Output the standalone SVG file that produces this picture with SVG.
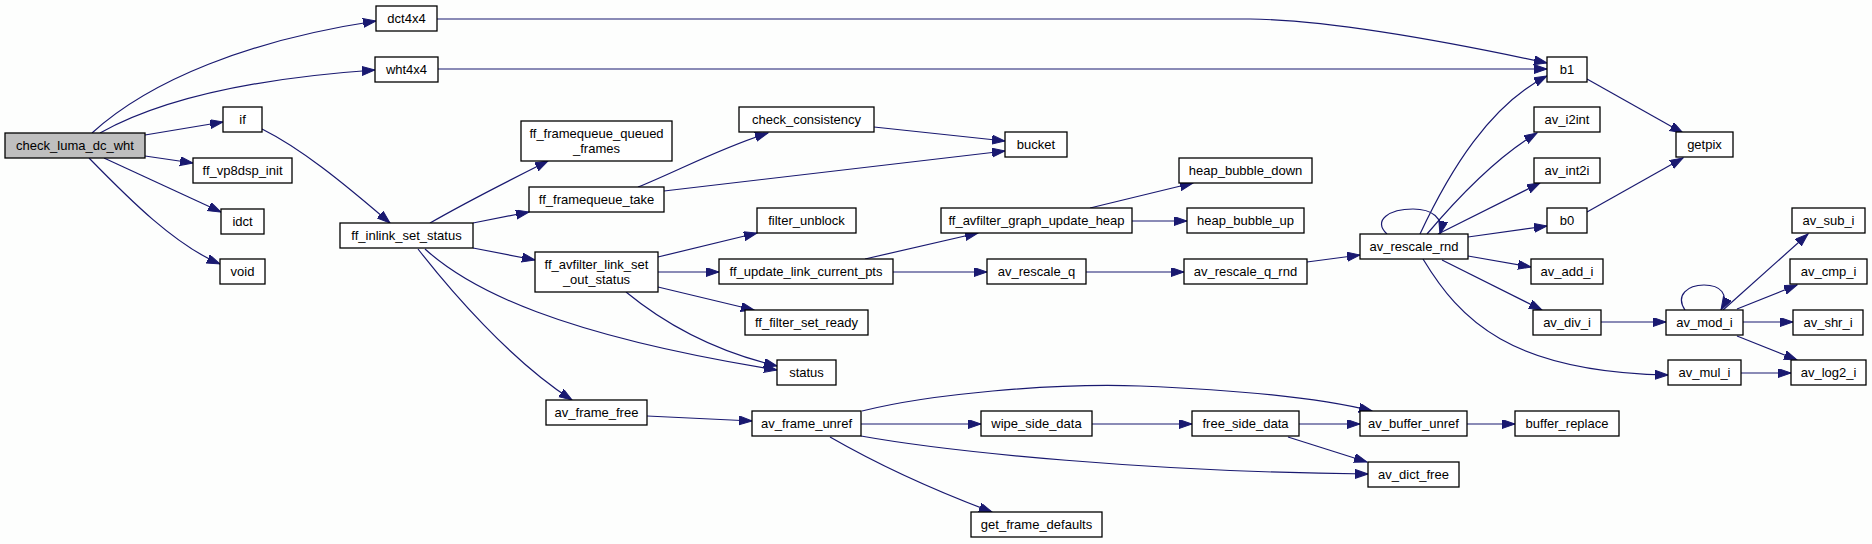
<svg xmlns="http://www.w3.org/2000/svg" width="1872" height="544" viewBox="0 0 1872 544">
<defs>
<style>
.n rect{fill:#ffffff;stroke:#000000;stroke-width:1.3}
.n.root rect{fill:#bfbfbf}
.n text{font-family:"Liberation Sans",Arial,sans-serif;font-size:13px;text-anchor:middle;fill:#000000}
.e path{fill:none;stroke:#191970;stroke-width:1.2;marker-end:url(#ah)}
</style>
<marker id="ah" markerUnits="userSpaceOnUse" markerWidth="14" markerHeight="10" refX="13" refY="4.5" orient="auto">
<path d="M0,0 L13,4.5 L0,9 z" fill="#191970" stroke="#191970" stroke-width="1"/>
</marker>
</defs>
<rect width="1872" height="544" fill="#fdfefd"/>
<g id="connectors" class="e">
<path d="M92,133 C150,80 250,40 376,21"/>
<path d="M100,133 C150,105 230,80 375,70"/>
<path d="M145,135 L223,122"/>
<path d="M145,156 L193,163"/>
<path d="M104,158 L221,212"/>
<path d="M89,158 C130,200 175,245 220,264"/>
<path d="M262,129 C300,148 340,180 390,223"/>
<path d="M430,223 C470,200 510,180 548,161"/>
<path d="M473,223 L529,212"/>
<path d="M473,248 L535,260"/>
<path d="M425,249 C470,290 560,335 777,370"/>
<path d="M418,249 C450,290 510,360 572,400"/>
<path d="M638,187 C680,170 720,148 768,133"/>
<path d="M664,191 L1005,151"/>
<path d="M874,127 L1005,141"/>
<path d="M658,257 L757,233"/>
<path d="M658,272 L719,272"/>
<path d="M658,287 L754,310"/>
<path d="M626,292 C660,320 710,350 777,366"/>
<path d="M865,259 L978,233"/>
<path d="M893,272 L987,272"/>
<path d="M1090,208 L1193,183"/>
<path d="M1132,221 L1187,221"/>
<path d="M1086,272 L1184,272"/>
<path d="M1307,262 L1360,255"/>
<path d="M1387,234 C1372,220 1390,209 1413,209 C1432,209 1444,218 1440,234"/>
<path d="M1420,234 C1450,170 1490,105 1547,76"/>
<path d="M1427,234 C1460,195 1500,155 1537,133"/>
<path d="M1438,234 L1540,183"/>
<path d="M1468,237 L1547,226"/>
<path d="M1468,256 L1531,267"/>
<path d="M1442,260 L1542,310"/>
<path d="M1423,259 C1460,320 1510,372 1668,375"/>
<path d="M1587,79 L1683,133"/>
<path d="M1587,212 L1683,158"/>
<path d="M1601,322 L1666,322"/>
<path d="M1685,310 C1675,295 1688,285 1704,285 C1720,285 1730,294 1721,310"/>
<path d="M1723,310 L1808,234"/>
<path d="M1737,309 L1797,285"/>
<path d="M1743,322 L1793,322"/>
<path d="M1737,336 L1797,360"/>
<path d="M1741,373 L1791,373"/>
<path d="M647,416 L752,421"/>
<path d="M862,411 C930,394 1050,383 1140,386 C1240,390 1320,398 1372,411"/>
<path d="M861,424 L981,424"/>
<path d="M861,436 C950,452 1150,472 1368,474"/>
<path d="M830,437 C870,460 920,485 992,512"/>
<path d="M1092,424 L1192,424"/>
<path d="M1299,424 L1360,424"/>
<path d="M1288,437 L1367,462"/>
<path d="M1467,424 L1515,424"/>
<path d="M437,19 L1250,19 C1330,20 1440,40 1547,63"/>
<path d="M438,69 L1547,69"/>
</g>
<g id="check_luma_dc_wht" class="n root"><rect x="5" y="133" width="140" height="25"/><text x="75" y="150">check_luma_dc_wht</text></g>
<g id="dct4x4" class="n"><rect x="376" y="6" width="61" height="25"/><text x="406.5" y="23">dct4x4</text></g>
<g id="wht4x4" class="n"><rect x="375" y="57" width="63" height="25"/><text x="406.5" y="74">wht4x4</text></g>
<g id="if" class="n"><rect x="223" y="107" width="39" height="25"/><text x="242.5" y="124">if</text></g>
<g id="ff_vp8dsp_init" class="n"><rect x="193" y="158" width="99" height="25"/><text x="242.5" y="175">ff_vp8dsp_init</text></g>
<g id="idct" class="n"><rect x="221" y="209" width="43" height="25"/><text x="242.5" y="226">idct</text></g>
<g id="void" class="n"><rect x="220" y="259" width="45" height="25"/><text x="242.5" y="276">void</text></g>
<g id="ff_inlink_set_status" class="n"><rect x="340" y="223" width="133" height="25"/><text x="406.5" y="240">ff_inlink_set_status</text></g>
<g id="ff_framequeue_queued_frames" class="n"><rect x="521" y="121" width="151" height="40"/><text x="596.5" y="138">ff_framequeue_queued</text><text x="596.5" y="153">_frames</text></g>
<g id="check_consistency" class="n"><rect x="739" y="107" width="135" height="25"/><text x="806.5" y="124">check_consistency</text></g>
<g id="ff_framequeue_take" class="n"><rect x="529" y="187" width="135" height="25"/><text x="596.5" y="204">ff_framequeue_take</text></g>
<g id="filter_unblock" class="n"><rect x="757" y="208" width="99" height="25"/><text x="806.5" y="225">filter_unblock</text></g>
<g id="ff_avfilter_link_set_out_status" class="n"><rect x="535" y="252" width="123" height="40"/><text x="596.5" y="269">ff_avfilter_link_set</text><text x="596.5" y="284">_out_status</text></g>
<g id="ff_update_link_current_pts" class="n"><rect x="719" y="259" width="174" height="25"/><text x="806" y="276">ff_update_link_current_pts</text></g>
<g id="ff_filter_set_ready" class="n"><rect x="745" y="310" width="123" height="25"/><text x="806.5" y="327">ff_filter_set_ready</text></g>
<g id="status" class="n"><rect x="777" y="360" width="59" height="25"/><text x="806.5" y="377">status</text></g>
<g id="av_frame_free" class="n"><rect x="546" y="400" width="101" height="25"/><text x="596.5" y="417">av_frame_free</text></g>
<g id="av_frame_unref" class="n"><rect x="752" y="411" width="109" height="25"/><text x="806.5" y="428">av_frame_unref</text></g>
<g id="bucket" class="n"><rect x="1005" y="132" width="62" height="25"/><text x="1036" y="149">bucket</text></g>
<g id="heap_bubble_down" class="n"><rect x="1179" y="158" width="133" height="25"/><text x="1245.5" y="175">heap_bubble_down</text></g>
<g id="ff_avfilter_graph_update_heap" class="n"><rect x="941" y="208" width="191" height="25"/><text x="1036.5" y="225">ff_avfilter_graph_update_heap</text></g>
<g id="heap_bubble_up" class="n"><rect x="1187" y="208" width="117" height="25"/><text x="1245.5" y="225">heap_bubble_up</text></g>
<g id="av_rescale_q" class="n"><rect x="987" y="259" width="99" height="25"/><text x="1036.5" y="276">av_rescale_q</text></g>
<g id="av_rescale_q_rnd" class="n"><rect x="1184" y="259" width="123" height="25"/><text x="1245.5" y="276">av_rescale_q_rnd</text></g>
<g id="av_rescale_rnd" class="n"><rect x="1360" y="234" width="108" height="25"/><text x="1414" y="251">av_rescale_rnd</text></g>
<g id="wipe_side_data" class="n"><rect x="981" y="411" width="111" height="25"/><text x="1036.5" y="428">wipe_side_data</text></g>
<g id="free_side_data" class="n"><rect x="1192" y="411" width="107" height="25"/><text x="1245.5" y="428">free_side_data</text></g>
<g id="av_buffer_unref" class="n"><rect x="1360" y="411" width="107" height="25"/><text x="1413.5" y="428">av_buffer_unref</text></g>
<g id="av_dict_free" class="n"><rect x="1368" y="462" width="91" height="25"/><text x="1413.5" y="479">av_dict_free</text></g>
<g id="get_frame_defaults" class="n"><rect x="971" y="512" width="131" height="25"/><text x="1036.5" y="529">get_frame_defaults</text></g>
<g id="b1" class="n"><rect x="1547" y="57" width="40" height="25"/><text x="1567" y="74">b1</text></g>
<g id="av_i2int" class="n"><rect x="1534" y="107" width="66" height="25"/><text x="1567" y="124">av_i2int</text></g>
<g id="av_int2i" class="n"><rect x="1534" y="158" width="66" height="25"/><text x="1567" y="175">av_int2i</text></g>
<g id="b0" class="n"><rect x="1547" y="208" width="40" height="25"/><text x="1567" y="225">b0</text></g>
<g id="av_add_i" class="n"><rect x="1531" y="259" width="72" height="25"/><text x="1567" y="276">av_add_i</text></g>
<g id="getpix" class="n"><rect x="1676" y="132" width="57" height="25"/><text x="1704.5" y="149">getpix</text></g>
<g id="av_sub_i" class="n"><rect x="1792" y="208" width="73" height="25"/><text x="1828.5" y="225">av_sub_i</text></g>
<g id="av_cmp_i" class="n"><rect x="1790" y="259" width="77" height="25"/><text x="1828.5" y="276">av_cmp_i</text></g>
<g id="av_div_i" class="n"><rect x="1533" y="310" width="68" height="25"/><text x="1567" y="327">av_div_i</text></g>
<g id="av_mod_i" class="n"><rect x="1666" y="310" width="77" height="25"/><text x="1704.5" y="327">av_mod_i</text></g>
<g id="av_shr_i" class="n"><rect x="1793" y="310" width="70" height="25"/><text x="1828" y="327">av_shr_i</text></g>
<g id="av_mul_i" class="n"><rect x="1668" y="360" width="73" height="25"/><text x="1704.5" y="377">av_mul_i</text></g>
<g id="av_log2_i" class="n"><rect x="1791" y="360" width="75" height="25"/><text x="1828.5" y="377">av_log2_i</text></g>
<g id="buffer_replace" class="n"><rect x="1515" y="411" width="104" height="25"/><text x="1567" y="428">buffer_replace</text></g>
</svg>
